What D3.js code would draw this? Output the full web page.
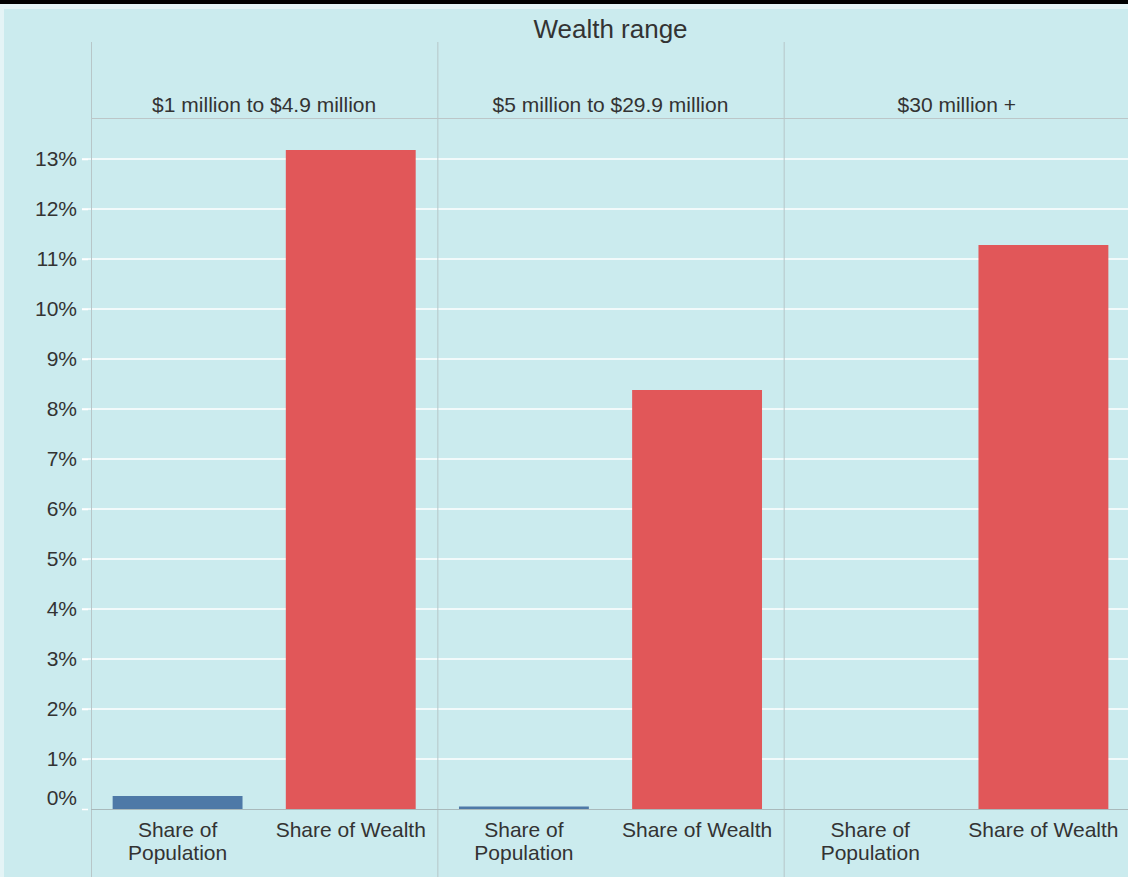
<!DOCTYPE html>
<html>
<head>
<meta charset="utf-8">
<script src="https://cdn.jsdelivr.net/npm/d3@7"></script>
<style>
  body { margin: 0; background: #ffffff; }
  text { font-family: "Liberation Sans", Arial, sans-serif; fill: #333333; }
</style>
</head>
<body>
<svg id="chart"></svg>
<script>
// data (values in %)
const panels = ["$1 million to $4.9 million", "$5 million to $29.9 million", "$30 million +"];
const measures = ["Share of Population", "Share of Wealth"];
const measureLines = [["Share of", "Population"], ["Share of Wealth"]];
const population = [0.26, 0.05, 0];
const wealth = [13.18, 8.38, 11.28];
const yTicks = [0, 1, 2, 3, 4, 5, 6, 7, 8, 9, 10, 11, 12, 13];

const width = 1128, height = 877;
const colors = {"Share of Population": "#4e79a7", "Share of Wealth": "#e15759"};

const svg = d3.select("#chart")
    .attr("width", width)
    .attr("height", height);

// frame: black strip at the top, pale border, cyan plot background
svg.append("rect").attr("x", 0).attr("y", 0).attr("width", width).attr("height", height).attr("fill", "#e4f4f6");
svg.append("rect").attr("x", 0).attr("y", 0).attr("width", width).attr("height", 4).attr("fill", "#000");
svg.append("rect").attr("x", 4).attr("y", 9).attr("width", width - 4).attr("height", height - 9).attr("fill", "#cbebee");

const xPanel = d3.scaleBand()
    .domain(panels)
    .range([91, 1130])
    .padding(0);

const xInner = d3.scaleBand()
    .domain(measures)
    .range([0, xPanel.bandwidth()])
    .paddingInner(0.25)
    .paddingOuter(0.125);

const yScale = d3.scaleLinear()
    .domain([0, 13])
    .range([809, 159]);

// gridlines
svg.append("g")
    .selectAll("line")
    .data(yTicks.filter(d => d > 0))
    .join("line")
    .attr("x1", 82)
    .attr("x2", width)
    .attr("y1", d => yScale(d))
    .attr("y2", d => yScale(d))
    .attr("stroke", "#ffffff")
    .attr("stroke-width", 1.5);

// y axis labels
const yAxis = d3.axisLeft(yScale)
    .tickValues(yTicks)
    .tickFormat(d => d + "%")
    .tickSize(6)
    .tickPadding(5);

const yAxisG = svg.append("g")
    .attr("transform", "translate(88,0)")
    .call(yAxis);
yAxisG.select(".domain").remove();
yAxisG.selectAll(".tick line").attr("stroke", "#ffffff").attr("stroke-width", 1.5);
yAxisG.selectAll(".tick text")
    .attr("font-size", 21)
    .attr("fill", "#333")
    .attr("dy", d => d === 0 ? "-0.2em" : "0.32em");

// panel dividers, header line, zero line
svg.append("g")
    .selectAll("line")
    .data(panels)
    .join("line")
    .attr("x1", d => xPanel(d) + 0.5)
    .attr("x2", d => xPanel(d) + 0.5)
    .attr("y1", 42)
    .attr("y2", height)
    .attr("stroke", "#b7c6c8");

svg.append("line")
    .attr("x1", 91).attr("x2", width)
    .attr("y1", 118.5).attr("y2", 118.5)
    .attr("stroke", "#bcc6c8");

// title and panel headers
svg.append("text")
    .attr("x", 91 + (1130 - 91) / 2)
    .attr("y", 38)
    .attr("text-anchor", "middle")
    .attr("font-size", 26)
    .text("Wealth range");

svg.append("g")
    .selectAll("text")
    .data(panels)
    .join("text")
    .attr("x", d => xPanel(d) + xPanel.bandwidth() / 2)
    .attr("y", 112)
    .attr("text-anchor", "middle")
    .attr("font-size", 21)
    .text(d => d);

// bars
const rows = [];
panels.forEach((p, i) => {
    rows.push({panel: p, measure: measures[0], value: population[i]});
    rows.push({panel: p, measure: measures[1], value: wealth[i]});
});

svg.append("g")
    .selectAll("rect")
    .data(rows.filter(d => d.value > 0))
    .join("rect")
    .attr("x", d => xPanel(d.panel) + xInner(d.measure))
    .attr("width", xInner.bandwidth())
    .attr("y", d => yScale(d.value))
    .attr("height", d => yScale(0) - yScale(d.value))
    .attr("fill", d => colors[d.measure]);

svg.append("line")
    .attr("x1", 91).attr("x2", width)
    .attr("y1", yScale(0) + 0.5).attr("y2", yScale(0) + 0.5)
    .attr("stroke", "#a9b9bb");

// measure labels under each panel
panels.forEach(p => {
    const g = svg.append("g");
    measures.forEach((m, j) => {
        const t = g.append("text")
            .attr("x", xPanel(p) + xInner(m) + xInner.bandwidth() / 2)
            .attr("y", 837)
            .attr("text-anchor", "middle")
            .attr("font-size", 21);
        measureLines[j].forEach((line, k) => {
            t.append("tspan")
                .attr("x", xPanel(p) + xInner(m) + xInner.bandwidth() / 2)
                .attr("dy", k === 0 ? 0 : 23)
                .text(line);
        });
    });
});
</script>
</body>
</html>
